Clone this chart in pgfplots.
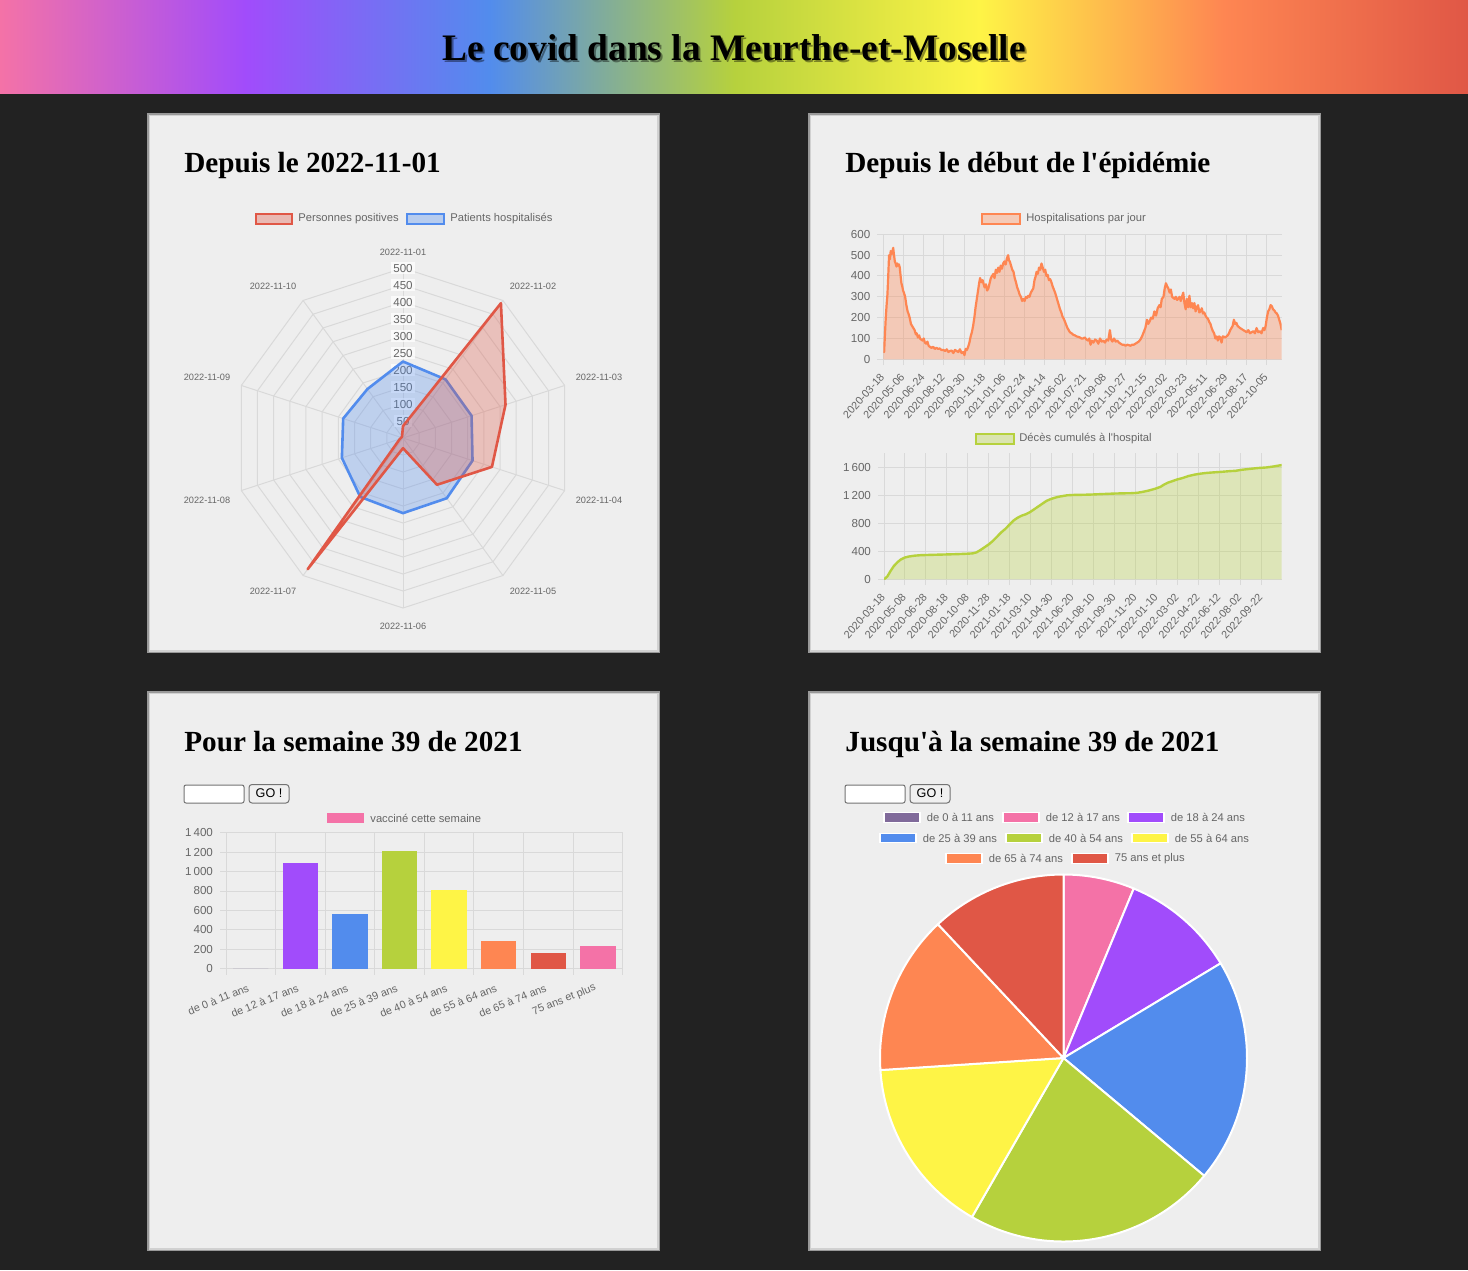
\documentclass[border=0pt]{standalone}
\usepackage{fontspec}
\setmainfont{Liberation Sans}
\newfontfamily\titlefont{Liberation Serif}
\usepackage{pgfplots}
\usepackage{pgfplotstable}
\pgfplotsset{compat=1.18}

\definecolor{bgdark}{HTML}{222222}
\definecolor{panel}{HTML}{EEEEEE}
\definecolor{gridc}{HTML}{D9D9D9}
\definecolor{txt}{HTML}{666666}
\definecolor{cpink}{HTML}{F472A7}
\definecolor{cpurple}{HTML}{A14CFB}
\definecolor{cblue}{HTML}{528CED}
\definecolor{cgreen}{HTML}{B6D13D}
\definecolor{cyellow}{HTML}{FEF446}
\definecolor{corange}{HTML}{FE8652}
\definecolor{cred}{HTML}{E05746}
\definecolor{cgrayp}{HTML}{806A9A}

\newcommand{\fs}[1]{\fontsize{#1}{#1}\selectfont}

\pgfplotsset{
  cjs/.style={
    scale only axis,
    axis x line*=bottom, axis y line*=left,
    axis line style={draw=gridc, line width=0.5pt, -},
    grid=major,
    major grid style={draw=gridc, line width=0.5pt},
    tick align=outside,
    major tick length=3pt,
    tick style={draw=gridc, line width=0.5pt},
    tick label style={font=\fs{5.8pt}, text=txt},
    /pgf/number format/assume math mode=true,
    /pgf/number format/1000 sep={\,},
  }
}

% Hospitalisations par jour (x = days since 2020-03-18)
\pgfplotstableread{
d v
0 40
2 35
4 120
6 200
8 260
10 310
12 400
14 500
16 480
18 520
20 505
22 515
24 535
26 500
28 470
30 460
32 445
34 460
36 450
38 455
40 440
42 400
44 365
46 350
48 330
50 320
53 300
56 260
59 230
61 220
64 200
67 170
70 160
73 150
76 140
79 120
81 125
84 105
87 115
89 100
92 95
95 90
98 100
101 80
104 75
107 85
110 65
113 60
117 55
121 60
125 50
129 55
133 50
137 52
141 45
146 45
150 40
154 48
158 35
162 40
166 42
170 30
174 45
178 40
182 35
186 48
190 30
194 35
197 20
200 50
203 45
206 60
209 80
212 110
215 130
218 160
221 200
224 250
227 290
230 330
233 370
235 390
238 370
241 380
243 365
246 345
249 360
252 330
255 340
258 365
261 390
264 400
267 410
270 390
273 430
276 415
279 440
282 420
285 450
288 435
291 460
294 470
297 455
300 485
303 500
305 475
307 470
310 450
313 430
316 420
319 390
322 370
325 345
328 330
331 310
334 300
337 280
340 290
343 280
346 300
349 295
352 305
355 300
358 320
361 330
364 340
367 380
370 400
372 420
375 410
378 440
381 430
384 460
387 440
390 420
393 430
396 400
399 405
402 380
405 385
408 370
411 350
414 335
417 320
420 300
423 280
426 260
429 240
432 225
435 205
438 195
441 180
444 165
447 150
450 140
453 130
457 125
461 118
465 115
469 110
473 108
477 105
481 100
485 100
489 105
493 95
497 90
500 100
503 70
506 90
510 80
514 95
518 90
522 75
526 100
530 85
534 90
538 80
542 95
546 90
550 140
553 95
556 85
560 100
564 85
568 90
572 80
576 75
580 70
584 70
588 65
592 70
596 68
600 65
604 70
608 70
612 75
616 80
620 85
624 95
628 110
632 130
636 150
640 190
643 170
646 180
650 200
654 195
658 230
662 210
666 245
670 260
673 250
676 290
680 300
683 340
686 365
689 350
692 340
695 320
698 335
701 300
704 295
707 290
710 300
713 285
716 290
719 300
722 280
725 300
728 320
731 270
734 240
737 290
740 250
743 305
746 250
749 270
752 245
755 270
758 230
761 250
764 260
767 225
770 230
773 245
776 220
779 225
782 210
785 200
788 195
791 180
794 170
797 150
800 135
803 125
806 100
809 110
812 90
815 110
818 105
821 80
824 110
827 108
830 105
833 110
836 115
839 125
842 140
845 150
848 160
851 190
854 170
857 175
860 160
863 155
866 150
870 145
874 140
878 135
882 130
886 140
890 125
894 130
898 135
902 125
906 150
910 130
914 135
918 125
922 150
925 140
928 160
931 200
934 230
937 240
940 260
943 255
946 240
949 235
952 225
955 220
958 210
961 190
964 170
967 140
}\hosp

% Deces cumules a l'hopital
\pgfplotstableread{
d v
0 0
8 40
16 120
24 190
32 240
40 280
50 310
60 325
75 338
90 345
120 350
150 355
180 360
200 365
215 370
225 385
235 420
245 460
255 500
265 550
275 610
285 670
295 720
305 780
315 840
325 880
335 910
345 930
355 960
365 1000
375 1040
385 1080
395 1120
405 1145
415 1165
425 1180
435 1190
445 1200
460 1205
480 1207
500 1210
520 1215
540 1220
560 1225
580 1228
600 1230
615 1235
630 1250
645 1270
660 1295
672 1320
680 1350
690 1380
700 1400
712 1425
725 1445
740 1475
755 1495
770 1510
785 1520
800 1527
820 1535
840 1545
855 1550
870 1565
890 1578
910 1590
930 1598
945 1610
960 1625
967 1632
}\deces

\begin{document}
\begin{tikzpicture}
\begin{scope}[x=0.5pt,y=-0.5pt]
\useasboundingbox (0,0) rectangle (1468,1270);
\fill[bgdark] (0,0) rectangle (1468,1270);
% header gradient
\shade[left color=cpink, right color=cpurple] (0,0) rectangle (245.5,93);
\shade[left color=cpurple, right color=cblue] (245,0) rectangle (489.5,93);
\shade[left color=cblue, right color=cgreen] (489,0) rectangle (734.5,93);
\shade[left color=cgreen, right color=cyellow] (734,0) rectangle (979.5,93);
\shade[left color=cyellow, right color=corange] (979,0) rectangle (1223.5,93);
\shade[left color=corange, right color=cred] (1223,0) rectangle (1468,93);
\node[anchor=base, font=\titlefont\bfseries\fs{18.7pt}, text=black, opacity=0.4] at (736,62) {Le covid dans la Meurthe-et-Moselle};
\node[anchor=base, font=\titlefont\bfseries\fs{18.7pt}, text=black] at (734,60) {Le covid dans la Meurthe-et-Moselle};
% panels
\foreach \xa/\ya/\xb/\yb in {147/113/660/653, 808/113/1321/653, 147/691/660/1251, 808/691/1321/1251}{
  \fill[black!40] (\xa,\ya) rectangle (\xb,\yb);
  \fill[black!18] (\xa+1.5,\ya+1.5) rectangle (\xb-1.5,\yb-1.5);
  \fill[panel] (\xa+3,\ya+3) rectangle (\xb-3,\yb-3);
}
% panel titles
\node[anchor=base west, font=\titlefont\bfseries\fs{14.6pt}, inner sep=0] at (184,172) {Depuis le 2022-11-01};
\node[anchor=base west, font=\titlefont\bfseries\fs{14.6pt}, inner sep=0] at (845,172) {Depuis le début de l\textquotesingle épidémie};
\node[anchor=base west, font=\titlefont\bfseries\fs{14.6pt}, inner sep=0] at (184,751) {Pour la semaine 39 de 2021};
\node[anchor=base west, font=\titlefont\bfseries\fs{14.6pt}, inner sep=0] at (845,751) {Jusqu\textquotesingle à la semaine 39 de 2021};
% radar legend
\draw[cred, line width=1pt, fill=cred!35!panel] (256,213.5) rectangle (292,223.5);
\node[anchor=west, font=\fs{5.6pt}, text=txt, inner sep=0] at (298,218.5) {Personnes positives};
\draw[cblue, line width=1pt, fill=cblue!35!panel] (407,213.5) rectangle (444,223.5);
\node[anchor=west, font=\fs{5.6pt}, text=txt, inner sep=0] at (450,218.5) {Patients hospitalisés};
% radar point labels
\foreach \px/\py/\lab in {403/252/2022-11-01, 533/286/2022-11-02, 599/377/2022-11-03, 599/500/2022-11-04, 533/591/2022-11-05, 403/626/2022-11-06, 273/591/2022-11-07, 207/500/2022-11-08, 207/377/2022-11-09, 273/286/2022-11-10}{
  \node[font=\fs{4.6pt}, text=txt, inner sep=0] at (\px,\py) {\lab};
}
% line chart legends
\draw[corange, line width=1pt, fill=corange!35!panel] (982,213.5) rectangle (1020,223.5);
\node[anchor=west, font=\fs{5.6pt}, text=txt, inner sep=0] at (1026,218.5) {Hospitalisations par jour};
\draw[cgreen, line width=1pt, fill=cgreen!35!panel] (976,433.5) rectangle (1014,443.5);
\node[anchor=west, font=\fs{5.6pt}, text=txt, inner sep=0] at (1019,438.5) {Décès cumulés à l\textquotesingle hospital};
% inputs
\foreach \bx in {184,845}{
  \draw[black!55, line width=0.5pt, fill=white, rounded corners=1pt] (\bx,785) rectangle (\bx+60,803);
  \draw[black!55, line width=0.5pt, fill=black!6, rounded corners=1.5pt] (\bx+65,784.5) rectangle (\bx+105,803);
  \node[font=\fs{6.3pt}, inner sep=0] at (\bx+85,793.5) {GO !};
}
% bar legend
\fill[cpink] (327,813) rectangle (364,823);
\node[anchor=west, font=\fs{5.6pt}, text=txt, inner sep=0] at (370,818) {vacciné cette semaine};
% pie legend
\foreach \bx/\by/\col/\lab in {884/817.5/cgrayp/de 0 à 11 ans, 1003/817.5/cpink/de 12 à 17 ans, 1128/817.5/cpurple/de 18 à 24 ans, 880/838/cblue/de 25 à 39 ans, 1006/838/cgreen/de 40 à 54 ans, 1132/838/cyellow/de 55 à 64 ans, 946/858.5/corange/de 65 à 74 ans, 1072/858.5/cred/75 ans et plus}{
  \draw[white, line width=0.6pt, fill=\col] (\bx,\by-4.7) rectangle (\bx+36,\by+4.7);
  \node[anchor=west, font=\fs{5.6pt}, text=txt, inner sep=0] at (\bx+42.5,\by) {\lab};
}
\end{scope}

% ---------- Radar chart ----------
\begin{axis}[hide axis, scale only axis, width=170pt, height=170pt,
  xmin=-500, xmax=500, ymin=-500, ymax=500,
  at={(201.5pt,-219pt)}, anchor=origin, clip=false]
\pgfplotsinvokeforeach{50,100,...,500}{
  \addplot[gridc, line width=0.5pt, data cs=polar] coordinates {(90,#1) (54,#1) (18,#1) (-18,#1) (-54,#1) (-90,#1) (-126,#1) (-162,#1) (-198,#1) (-234,#1) (90,#1)};
}
\pgfplotsinvokeforeach{90,54,18,-18,-54,-90,-126,-162,-198,-234}{
  \addplot[gridc, line width=0.5pt, data cs=polar] coordinates {(#1,0) (#1,500)};
}
\pgfplotsinvokeforeach{50,100,...,500}{
  \node[fill=white, fill opacity=0.75, text opacity=1, inner xsep=1.2pt, inner ysep=1pt, font=\fs{5.8pt}, text=txt] at (axis cs:0,#1) {#1};
}
% Patients hospitalises
\addplot[cblue, line width=1.3pt, fill=cblue, fill opacity=0.3, line join=round, data cs=polar] coordinates {
(90,225) (54,213) (18,212) (-18,215) (-54,219) (-90,221) (-126,214) (-162,189) (-198,185) (-234,178)} -- cycle;
% Personnes positives
\addplot[cred, line width=1.3pt, fill=cred, fill opacity=0.3, line join=round, data cs=polar] coordinates {
(90,35) (54,490) (18,317) (-18,275) (-54,170) (-90,30) (-126,477) (-162,10) (-198,5) (-234,5)} -- cycle;
\end{axis}

% ---------- Hospitalisations par jour ----------
\begin{axis}[cjs, at={(441.65pt,-179.65pt)}, anchor=south west,
  width=199.2pt, height=62.5pt,
  xmin=0, xmax=967, ymin=0, ymax=600, ytick={0,100,...,600},
  xtick={0,49,...,931},
  xticklabels={2020-03-18,2020-05-06,2020-06-24,2020-08-12,2020-09-30,2020-11-18,2021-01-06,2021-02-24,2021-04-14,2021-06-02,2021-07-21,2021-09-08,2021-10-27,2021-12-15,2022-02-02,2022-03-23,2022-05-11,2022-06-29,2022-08-17,2022-10-05},
  xticklabel style={xshift=1.8pt, yshift=-2.5pt, rotate=48, anchor=east, font=\fs{5.4pt}}]
\addplot[draw=none, fill=corange, fill opacity=0.35] table[x=d,y=v]{\hosp} \closedcycle;
\addplot[corange, line width=1.1pt, line join=round] table[x=d,y=v]{\hosp};
\end{axis}

% ---------- Deces cumules ----------
\begin{axis}[cjs, at={(442pt,-289.65pt)}, anchor=south west,
  width=198.85pt, height=63pt,
  xmin=0, xmax=967, ymin=0, ymax=1800, ytick={0,400,...,1600},
  xtick={0,51,...,918},
  xticklabels={2020-03-18,2020-05-08,2020-06-28,2020-08-18,2020-10-08,2020-11-28,2021-01-18,2021-03-10,2021-04-30,2021-06-20,2021-08-10,2021-09-30,2021-11-20,2022-01-10,2022-03-02,2022-04-22,2022-06-12,2022-08-02,2022-09-22},
  xticklabel style={xshift=1.8pt, yshift=-2.5pt, rotate=48, anchor=east, font=\fs{5.4pt}}]
\addplot[draw=none, fill=cgreen, fill opacity=0.3] table[x=d,y=v]{\deces} \closedcycle;
\addplot[cgreen, line width=1.2pt, line join=round] table[x=d,y=v]{\deces};
\end{axis}

% ---------- Bar chart ----------
\begin{axis}[cjs, at={(113pt,-484.35pt)}, anchor=south west,
  width=198.35pt, height=68pt,
  xmin=-0.5, xmax=7.5, ymin=0, ymax=1400, ytick={0,200,...,1400},
  xtick={0,...,7},
  xticklabels={de 0 à 11 ans,de 12 à 17 ans,de 18 à 24 ans,de 25 à 39 ans,de 40 à 54 ans,de 55 à 64 ans,de 65 à 74 ans,75 ans et plus},
  xmajorgrids=false, xminorgrids=true,
  minor xtick={-0.5,0.5,...,7.5},
  minor grid style={draw=gridc, line width=0.5pt},
  minor tick length=3pt,
  major x tick style={draw=none},
  xticklabel style={xshift=2pt, yshift=-5pt, rotate=22, anchor=east, font=\fs{5.4pt}}]
\addplot[ybar, bar width=17.65pt, bar shift=0pt, draw=none, fill=cgrayp] coordinates {(0,0)};
\addplot[ybar, bar width=17.65pt, bar shift=0pt, draw=none, fill=cpurple] coordinates {(1,1085)};
\addplot[ybar, bar width=17.65pt, bar shift=0pt, draw=none, fill=cblue] coordinates {(2,565)};
\addplot[ybar, bar width=17.65pt, bar shift=0pt, draw=none, fill=cgreen] coordinates {(3,1215)};
\addplot[ybar, bar width=17.65pt, bar shift=0pt, draw=none, fill=cyellow] coordinates {(4,815)};
\addplot[ybar, bar width=17.65pt, bar shift=0pt, draw=none, fill=corange] coordinates {(5,283)};
\addplot[ybar, bar width=17.65pt, bar shift=0pt, draw=none, fill=cred] coordinates {(6,157)};
\addplot[ybar, bar width=17.65pt, bar shift=0pt, draw=none, fill=cpink] coordinates {(7,233)};
\end{axis}

% ---------- Pie chart ----------
\begin{axis}[hide axis, scale only axis, width=183.5pt, height=183.5pt,
  xmin=-1, xmax=1, ymin=-1, ymax=1,
  at={(531.75pt,-529pt)}, anchor=origin, clip=false]
\pgfplotsextra{%
  \gdef\cum{0}%
  \foreach \v/\c in {0/cgrayp,386/cpink,624/cpurple,1217/cblue,1371/cgreen,965/cyellow,867/corange,740/cred}{%
    \pgfmathsetmacro\sa{90-\cum/6170*360}%
    \pgfmathsetmacro\newcum{\cum+\v}%
    \pgfmathsetmacro\ea{90-\newcum/6170*360}%
    \fill[\c, draw=white, line width=1pt, line join=round] (axis cs:0,0) -- ++(\sa:91.75pt) arc[start angle=\sa, end angle=\ea, radius=91.75pt] -- cycle;%
    \global\let\cum\newcum
  }%
}
\end{axis}
\end{tikzpicture}
\end{document}
